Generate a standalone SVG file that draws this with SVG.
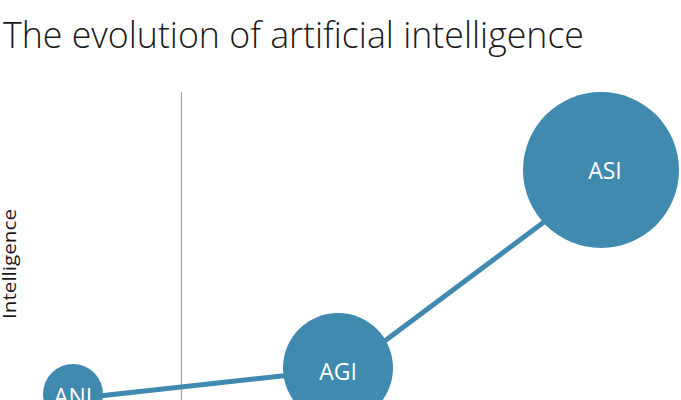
<svg xmlns="http://www.w3.org/2000/svg" width="681" height="400" viewBox="0 0 681 400">
<style>
.node{fill:#3f8aae}
.lbl{fill:#fff;font-family:"Open Sans","Liberation Sans",sans-serif;font-size:23px;text-anchor:middle}
.conn{stroke:#3f8aae;stroke-width:5;fill:none}
</style>
<rect width="681" height="400" fill="#fff"/>
<text x="3" y="48" font-family="Open Sans, Liberation Sans, sans-serif" font-weight="300" font-size="36" fill="#1a1a1a" textLength="581" lengthAdjust="spacingAndGlyphs">The evolution of artificial intelligence</text>
<line x1="181.5" y1="92" x2="181.5" y2="400" stroke="#a8a8a8" stroke-width="1.2"/>
<text transform="translate(16,264) rotate(-90)" font-family="Open Sans, Liberation Sans, sans-serif" font-size="18" fill="#1a1a1a" text-anchor="middle" textLength="110" lengthAdjust="spacingAndGlyphs">Intelligence</text>
<g id="connectors">
<line class="conn" x1="90" y1="397" x2="300" y2="374"/>
<line class="conn" x1="370" y1="352" x2="560" y2="210"/>
</g>
<g id="ANI"><circle class="node" cx="73" cy="394" r="30"/><text class="lbl" x="73" y="405">ANI</text></g>
<g id="AGI"><circle class="node" cx="338" cy="368" r="55"/><text class="lbl" x="338" y="380">AGI</text></g>
<g id="ASI"><circle class="node" cx="601" cy="170" r="78"/><text class="lbl" x="605" y="179">ASI</text></g>
</svg>
